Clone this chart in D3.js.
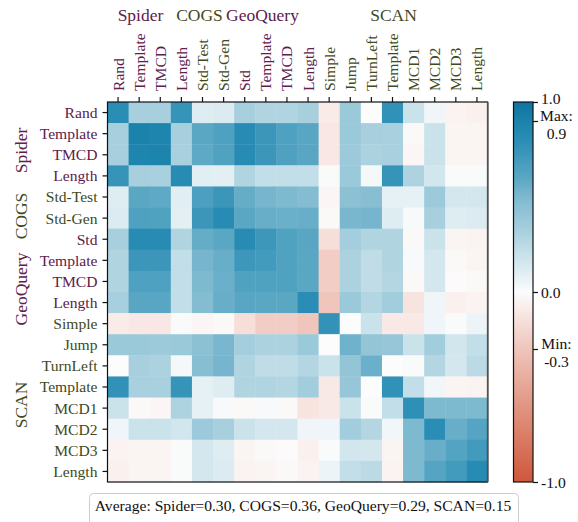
<!DOCTYPE html>
<html>
<head>
<meta charset="utf-8">
<script src="https://cdn.jsdelivr.net/npm/d3@7"></script>
<style>
  html, body { margin: 0; padding: 0; background: #ffffff; }
  svg { display: block; }
  text { font-family: "Liberation Serif", "Times New Roman", "DejaVu Serif", serif; }
</style>
</head>
<body>
<svg id="chart" width="578" height="522"></svg>
<script>
// ---------------- data ----------------
const labels = ["Rand","Template","TMCD","Length","Std-Test","Std-Gen","Std","Template","TMCD","Length",
                "Simple","Jump","TurnLeft","Template","MCD1","MCD2","MCD3","Length"];
const labelGroup = [0,0,0,0,1,1,2,2,2,2,3,3,3,3,3,3,3,3];
const groupNames = ["Spider","COGS","GeoQuery","SCAN"];

const row0  = [0.80, 0.33, 0.33, 0.75, 0.11, 0.12, 0.33, 0.29, 0.29, 0.33,-0.09, 0.38, 0.00, 0.77, 0.19, 0.05,-0.05,-0.06];
const row1  = [0.33, 0.90, 0.88, 0.33, 0.60, 0.65, 0.82, 0.73, 0.65, 0.61,-0.11, 0.38, 0.33, 0.32,-0.02, 0.19,-0.04,-0.04];
const row2  = [0.33, 0.88, 0.89, 0.32, 0.59, 0.64, 0.82, 0.73, 0.65, 0.61,-0.11, 0.37, 0.31, 0.32,-0.03, 0.19,-0.04,-0.04];
const row3  = [0.75, 0.33, 0.32, 0.82, 0.10, 0.09, 0.29, 0.22, 0.22, 0.22, 0.01, 0.38, 0.03, 0.75, 0.30, 0.16, 0.01, 0.01];
const row4  = [0.11, 0.60, 0.59, 0.10, 0.66, 0.73, 0.57, 0.52, 0.50, 0.47,-0.03, 0.44, 0.46, 0.08, 0.08, 0.37, 0.15, 0.15];
const row5  = [0.12, 0.65, 0.64, 0.09, 0.73, 0.82, 0.60, 0.56, 0.55, 0.56,-0.02, 0.51, 0.52, 0.11, 0.02, 0.33, 0.11, 0.12];
const row6  = [0.33, 0.82, 0.82, 0.29, 0.57, 0.60, 0.82, 0.72, 0.64, 0.61,-0.16, 0.34, 0.29, 0.29,-0.02, 0.19,-0.04,-0.05];
const row7  = [0.29, 0.73, 0.73, 0.22, 0.52, 0.56, 0.72, 0.70, 0.64, 0.60,-0.25, 0.31, 0.23, 0.29, 0.02, 0.15,-0.02,-0.04];
const row8  = [0.29, 0.65, 0.65, 0.22, 0.50, 0.55, 0.64, 0.64, 0.64, 0.60,-0.25, 0.31, 0.23, 0.28,-0.02, 0.15,-0.01,-0.02];
const row9  = [0.33, 0.61, 0.61, 0.22, 0.47, 0.56, 0.61, 0.60, 0.60, 0.80,-0.30, 0.38, 0.28, 0.35,-0.13, 0.05,-0.06,-0.05];
const row10 = [-0.09,-0.11,-0.11, 0.01,-0.03,-0.02,-0.16,-0.25,-0.25,-0.30, 0.76, 0.00, 0.19,-0.10,-0.10, 0.05, 0.01, 0.06];
const row11 = [0.38, 0.38, 0.37, 0.38, 0.44, 0.51, 0.34, 0.31, 0.31, 0.38, 0.00, 0.54, 0.41, 0.40, 0.19, 0.35, 0.16, 0.22];
const row12 = [0.00, 0.33, 0.31, 0.03, 0.46, 0.52, 0.29, 0.23, 0.23, 0.28, 0.19, 0.41, 0.55, 0.00, 0.01, 0.28, 0.15, 0.25];
const row13 = [0.77, 0.32, 0.32, 0.75, 0.08, 0.11, 0.29, 0.29, 0.28, 0.35,-0.10, 0.40, 0.00, 0.77, 0.22, 0.04,-0.04,-0.05];
const row14 = [0.19,-0.02,-0.03, 0.30, 0.08, 0.02,-0.02, 0.02,-0.02,-0.13,-0.10, 0.19, 0.01, 0.22, 0.78, 0.50, 0.50, 0.50];
const row15 = [0.05, 0.19, 0.19, 0.16, 0.37, 0.33, 0.19, 0.15, 0.15, 0.05, 0.05, 0.35, 0.28, 0.04, 0.50, 0.80, 0.56, 0.62];
const row16 = [-0.05,-0.04,-0.04, 0.01, 0.15, 0.11,-0.04,-0.02,-0.01,-0.06, 0.01, 0.16, 0.15,-0.04, 0.50, 0.56, 0.63, 0.70];
const row17 = [-0.06,-0.04,-0.04, 0.01, 0.15, 0.12,-0.05,-0.04,-0.02,-0.05, 0.06, 0.22, 0.25,-0.05, 0.50, 0.62, 0.70, 0.82];
const matrix = [row0,row1,row2,row3,row4,row5,row6,row7,row8,row9,row10,row11,row12,row13,row14,row15,row16,row17];

const cbarTicks = [1.0, 0.9, 0.0, -0.3, -1.0];
const cbarTickLabels = [["1.0"], ["Max:", "0.9"], ["0.0"], ["Min:", "-0.3"], ["-1.0"]];
const averageText = "Average: Spider=0.30, COGS=0.36, GeoQuery=0.29, SCAN=0.15";

// ---------------- layout ----------------
const svg = d3.select("#chart");
const L = 107.5, R = 487.5, T = 102, B = 482;
const groupColors = ["#60204c", "#404a1c", "#60204c", "#404a1c"];
const fs = 15.6;

const idx = d3.range(labels.length);
const x = d3.scaleBand().domain(idx).range([L, R]);
const y = d3.scaleBand().domain(idx).range([T, B]);

const color = d3.scaleLinear()
  .domain([-1, -0.5, -0.25, 0, 0.1, 0.3, 0.5, 0.6, 0.8, 0.9, 1])
  .range(["#cf573b", "#e6a595", "#f2cdc5", "#fcfcfc", "#e1eef3", "#aed3e0", "#7db9cf", "#5aa7c4", "#2a8db5", "#1a83ac", "#0f73a0"])
  .interpolate(d3.interpolateRgb)
  .clamp(true);

// cells
const cells = [];
matrix.forEach((r, i) => r.forEach((v, j) => cells.push({i, j, v})));
svg.append("g").selectAll("rect").data(cells).join("rect")
  .attr("x", d => x(d.j))
  .attr("y", d => y(d.i))
  .attr("width", x.bandwidth() + 0.4)
  .attr("height", y.bandwidth() + 0.4)
  .attr("fill", d => color(d.v));

// frame
svg.append("rect").attr("x", L).attr("y", T).attr("width", R - L).attr("height", B - T)
  .attr("fill", "none").attr("stroke", "#111").attr("stroke-width", 1.2);
svg.append("line").attr("x1", R + 0.5).attr("x2", R + 0.5).attr("y1", T).attr("y2", B)
  .attr("stroke", "#666").attr("stroke-width", 1.5);

// top axis
const topAxis = d3.axisTop(x).tickSize(5).tickFormat("");
const gTop = svg.append("g").attr("transform", `translate(0,${T})`).call(topAxis);
gTop.select(".domain").remove();
gTop.selectAll("line").attr("stroke", "#111").attr("stroke-width", 1.2);

svg.append("g").selectAll("text").data(idx).join("text")
  .attr("transform", d => `translate(${x(d) + x.bandwidth() / 2},${T - 11}) rotate(-90)`)
  .attr("dy", "0.35em")
  .attr("text-anchor", "start")
  .attr("font-size", fs)
  .attr("fill", d => groupColors[labelGroup[d]])
  .text(d => labels[d]);

// left axis
const leftAxis = d3.axisLeft(y).tickSize(5).tickFormat("");
const gLeft = svg.append("g").attr("transform", `translate(${L},0)`).call(leftAxis);
gLeft.select(".domain").remove();
gLeft.selectAll("line").attr("stroke", "#111").attr("stroke-width", 1.2);

svg.append("g").selectAll("text").data(idx).join("text")
  .attr("x", L - 10)
  .attr("y", d => y(d) + y.bandwidth() / 2)
  .attr("dy", "0.35em")
  .attr("text-anchor", "end")
  .attr("font-size", fs)
  .attr("fill", d => groupColors[labelGroup[d]])
  .text(d => labels[d]);

// group titles
const topTitleX = [140.5, 199.5, 262.5, 393.5];
const leftTitleY = [150.5, 216, 289, 405];
svg.append("g").selectAll("text").data(groupNames).join("text")
  .attr("x", (d, i) => topTitleX[i])
  .attr("y", 21)
  .attr("text-anchor", "middle")
  .attr("font-size", 17.5)
  .attr("fill", (d, i) => groupColors[i])
  .text(d => d);
svg.append("g").selectAll("text").data(groupNames).join("text")
  .attr("transform", (d, i) => `translate(27,${leftTitleY[i]}) rotate(-90)`)
  .attr("text-anchor", "middle")
  .attr("font-size", 17.5)
  .attr("fill", (d, i) => groupColors[i])
  .text(d => d);

// colorbar
const cbX = 513.5, cbW = 19.5;
const cb = d3.scaleLinear().domain([-1, 1]).range([B, T]);
const defs = svg.append("defs");
const grad = defs.append("linearGradient").attr("id", "cbgrad")
  .attr("x1", 0).attr("y1", 1).attr("x2", 0).attr("y2", 0);
d3.range(0, 1.0001, 0.02).forEach(t => {
  grad.append("stop").attr("offset", t).attr("stop-color", color(-1 + 2 * t));
});
svg.append("rect").attr("x", cbX).attr("y", T).attr("width", cbW).attr("height", B - T)
  .attr("fill", "url(#cbgrad)").attr("stroke", "#111").attr("stroke-width", 1.2);

const cbAxis = d3.axisRight(cb).tickValues(cbarTicks).tickSize(5).tickFormat("");
const gCb = svg.append("g").attr("transform", `translate(${cbX + cbW},0)`).call(cbAxis);
gCb.select(".domain").remove();
gCb.selectAll("line").attr("stroke", "#111").attr("stroke-width", 1.2);

const cbLabels = svg.append("g");
cbarTicks.forEach((v, k) => {
  const lines = cbarTickLabels[k];
  const ty = cb(v);
  if (lines.length === 1) {
    cbLabels.append("text").attr("x", 541).attr("y", ty + (k === 0 ? 1.5 : 5.5))
      .attr("font-size", fs).attr("fill", "#111").text(lines[0]);
  } else {
    const cx = 541 + 15.5;
    const first = ty;
    const gap = 17.5;
    const t = cbLabels.append("text").attr("y", first)
      .attr("text-anchor", "middle").attr("font-size", fs).attr("fill", "#111");
    t.append("tspan").attr("x", cx).text(lines[0]);
    t.append("tspan").attr("x", cx).attr("dy", gap).text(lines[1]);
  }
});

// average box
svg.append("rect").attr("x", 89.5).attr("y", 493.5).attr("width", 429).attr("height", 36)
  .attr("rx", 4).attr("fill", "#fff").attr("stroke", "#cccccc").attr("stroke-width", 1);
svg.append("text").attr("x", 303).attr("y", 510.5).attr("text-anchor", "middle")
  .attr("font-size", fs).attr("fill", "#111").text(averageText);
</script>
</body>
</html>
